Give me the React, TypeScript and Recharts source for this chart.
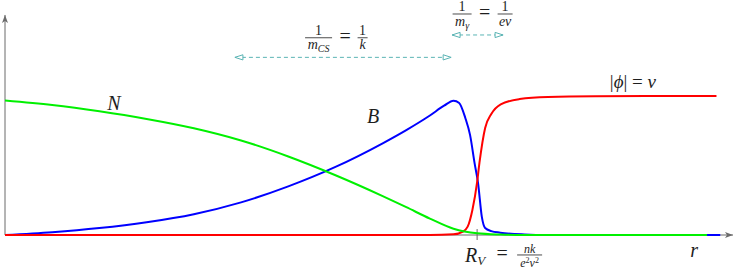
import React from 'react'
import { LineChart, Line, XAxis, YAxis, ReferenceLine, ReferenceDot } from 'recharts'

// profiles (r in arbitrary units, R_V at r = 10)
const nR = [0, 1, 2, 3, 4, 5, 6, 7, 8, 8.5, 9, 9.5, 10, 10.5, 11, 14.87]
const nVal = [0.968, 0.935, 0.89, 0.835, 0.768, 0.68, 0.565, 0.43, 0.28, 0.2, 0.118, 0.045, 0.012, 0.003, 0, 0]

const bR = [0, 1, 2, 3, 4, 5, 6, 7, 8, 8.5, 9, 9.3, 9.5, 9.62, 9.75, 9.85, 9.95, 10.02, 10.1, 10.17, 10.3, 10.49, 11, 11.5, 15.15]
const bVal = [0, 0.02, 0.05, 0.092, 0.15, 0.235, 0.35, 0.49, 0.66, 0.755, 0.86, 0.93, 0.966, 0.95, 0.842, 0.72, 0.51, 0.374, 0.13, 0.05, 0.028, 0.017, 0.004, 0, 0]

const phiR = [0, 9, 9.5, 9.7, 9.8, 9.9, 10, 10.05, 10.17, 10.3, 10.5, 10.9, 11.5, 12.5, 15.07]
const phiVal = [0, 0, 0.005, 0.025, 0.06, 0.18, 0.38, 0.52, 0.77, 0.87, 0.94, 0.978, 0.993, 0.998, 1]

const R_MAX = 15.42
const Y_TOP = 1.583
const RV = 10

const toRows = (rs: number[], vs: number[]) => rs.map((r, i) => ({ r, v: vs[i] }))
const nData = toRows(nR, nVal)
const bData = toRows(bR, bVal)
const phiData = toRows(phiR, phiVal)

const mathFont = "'Liberation Serif', 'Times New Roman', serif"
const ink = '#1e1e1e'
const axisGray = '#6b6b6b'
const teal = '#5ab4b4'

const txt = { fontFamily: mathFont, fill: ink }

const at = (key: string, x: number, y: number, node: React.ReactNode) => (
  <ReferenceDot
    key={key}
    x={x}
    y={y}
    r={0}
    ifOverflow="visible"
    shape={(p: any) => <g transform={`translate(${p.cx},${p.cy})`}>{node}</g>}
  />
)

const Frac = ({ w, num, den, numY = -2.5, denY = 11.5, size = 14 }: any) => (
  <g>
    <text x={0} y={numY} textAnchor="middle" fontSize={size} {...txt}>{num}</text>
    <line x1={-w / 2} x2={w / 2} y1={0} y2={0} stroke={ink} strokeWidth={0.8} />
    <text x={0} y={denY} textAnchor="middle" fontSize={size} {...txt}>{den}</text>
  </g>
)

const Eq = ({ x }: { x: number }) => (
  <text x={x} y={5} textAnchor="middle" fontSize={20} {...txt}>=</text>
)

const headL = <path d="M0,0 L8,-2.6 L8,2.6 Z" fill="#fff" stroke={teal} strokeWidth={1} />
const headR = <path d="M0,0 L-8,-2.6 L-8,2.6 Z" fill="#fff" stroke={teal} strokeWidth={1} />
const headUp = <path d="M0,0 L-3,8 L0,6 L3,8 Z" fill={axisGray} />
const headRight = <path d="M0,0 L-8,-3 L-6,0 L-8,3 Z" fill={axisGray} />

const it = { fontStyle: 'italic' as const }

export default function App() {
  return (
    <div style={{ position: 'absolute', left: 0, top: 0, background: '#fff' }}>
      <LineChart width={747} height={272} margin={{ top: 12.6, right: 14, bottom: 37, left: 5 }}>
        <XAxis type="number" dataKey="r" domain={[0, R_MAX]} allowDataOverflow hide />
        <YAxis type="number" domain={[0, 1.6]} hide />

        <ReferenceLine segment={[{ x: 0, y: 0 }, { x: R_MAX, y: 0 }]} stroke={axisGray} strokeWidth={1} ifOverflow="visible" />
        <ReferenceLine segment={[{ x: 0, y: 0 }, { x: 0, y: Y_TOP }]} stroke={axisGray} strokeWidth={1} ifOverflow="visible" />
        <ReferenceLine segment={[{ x: RV, y: -0.036 }, { x: RV, y: 0.043 }]} stroke={axisGray} strokeWidth={1} ifOverflow="visible" />
        {at('ax-up', 0, Y_TOP, headUp)}
        {at('ax-right', R_MAX, 0, headRight)}

        <Line data={bData} dataKey="v" type="monotone" stroke="#0000ff" strokeWidth={2} dot={false} isAnimationActive={false} />
        <Line data={phiData} dataKey="v" type="monotone" stroke="#ff0000" strokeWidth={2} dot={false} isAnimationActive={false} />
        <Line data={nData} dataKey="v" type="monotone" stroke="#00f000" strokeWidth={2} dot={false} isAnimationActive={false} />

        {/* length scale arrows */}
        <ReferenceLine segment={[{ x: 4.87, y: 1.278 }, { x: 9.45, y: 1.278 }]} stroke={teal} strokeDasharray="4 3" ifOverflow="visible" />
        {at('cs-l', 4.87, 1.278, headL)}
        {at('cs-r', 9.45, 1.278, headR)}
        <ReferenceLine segment={[{ x: 9.47, y: 1.439 }, { x: 10.55, y: 1.439 }]} stroke={teal} strokeDasharray="4 3" ifOverflow="visible" />
        {at('g-l', 9.47, 1.439, headL)}
        {at('g-r', 10.55, 1.439, headR)}

        {at('mcs', 6.642, 1.419,
          <g>
            <Frac w={27} num="1" den={<><tspan {...it}>m</tspan><tspan {...it} fontSize={10} dy={3}>CS</tspan></>} />
            <Eq x={26.5} />
            <g transform="translate(44,0)">
              <Frac w={10} num="1" den={<tspan {...it}>k</tspan>} />
            </g>
          </g>
        )}
        {at('mg', 9.682, 1.59,
          <g>
            <Frac w={19} num="1" denY={12} den={<><tspan {...it}>m</tspan><tspan {...it} fontSize={10} dy={3}>γ</tspan></>} />
            <Eq x={22.5} />
            <g transform="translate(43,0)">
              <Frac w={15} num="1" denY={12} den={<tspan {...it}>ev</tspan>} />
            </g>
          </g>
        )}

        {at('lblN', 2.309, 0.899, <text textAnchor="middle" fontSize={20} {...txt} {...it}>N</text>)}
        {at('lblB', 7.797, 0.804, <text textAnchor="middle" fontSize={20} {...txt} {...it}>B</text>)}
        {at('lblPhi', 13.3, 1.058,
          <text textAnchor="middle" fontSize={19} {...txt}>
            <tspan>|</tspan><tspan {...it}>ϕ</tspan><tspan>| = </tspan><tspan {...it}>v</tspan>
          </text>
        )}
        {at('lblr', 14.597, -0.156, <text textAnchor="middle" fontSize={20} {...txt} {...it}>r</text>)}
        {at('lblRV', 9.746, -0.194,
          <g>
            <text x={0} y={0} fontSize={20} {...txt}>
              <tspan {...it}>R</tspan><tspan {...it} fontSize={13} dy={3}>V</tspan>
            </text>
            <g transform="translate(0,-7)">
              <Eq x={37} />
              <g transform="translate(64.5,0)">
                <Frac w={25} size={12} num={<tspan {...it}>nk</tspan>} numY={-2} denY={12}
                  den={<><tspan {...it}>e</tspan><tspan fontSize={8} dy={-4}>2</tspan><tspan {...it} dy={4}>v</tspan><tspan fontSize={8} dy={-4}>2</tspan></>} />
              </g>
            </g>
          </g>
        )}
      </LineChart>
    </div>
  )
}
